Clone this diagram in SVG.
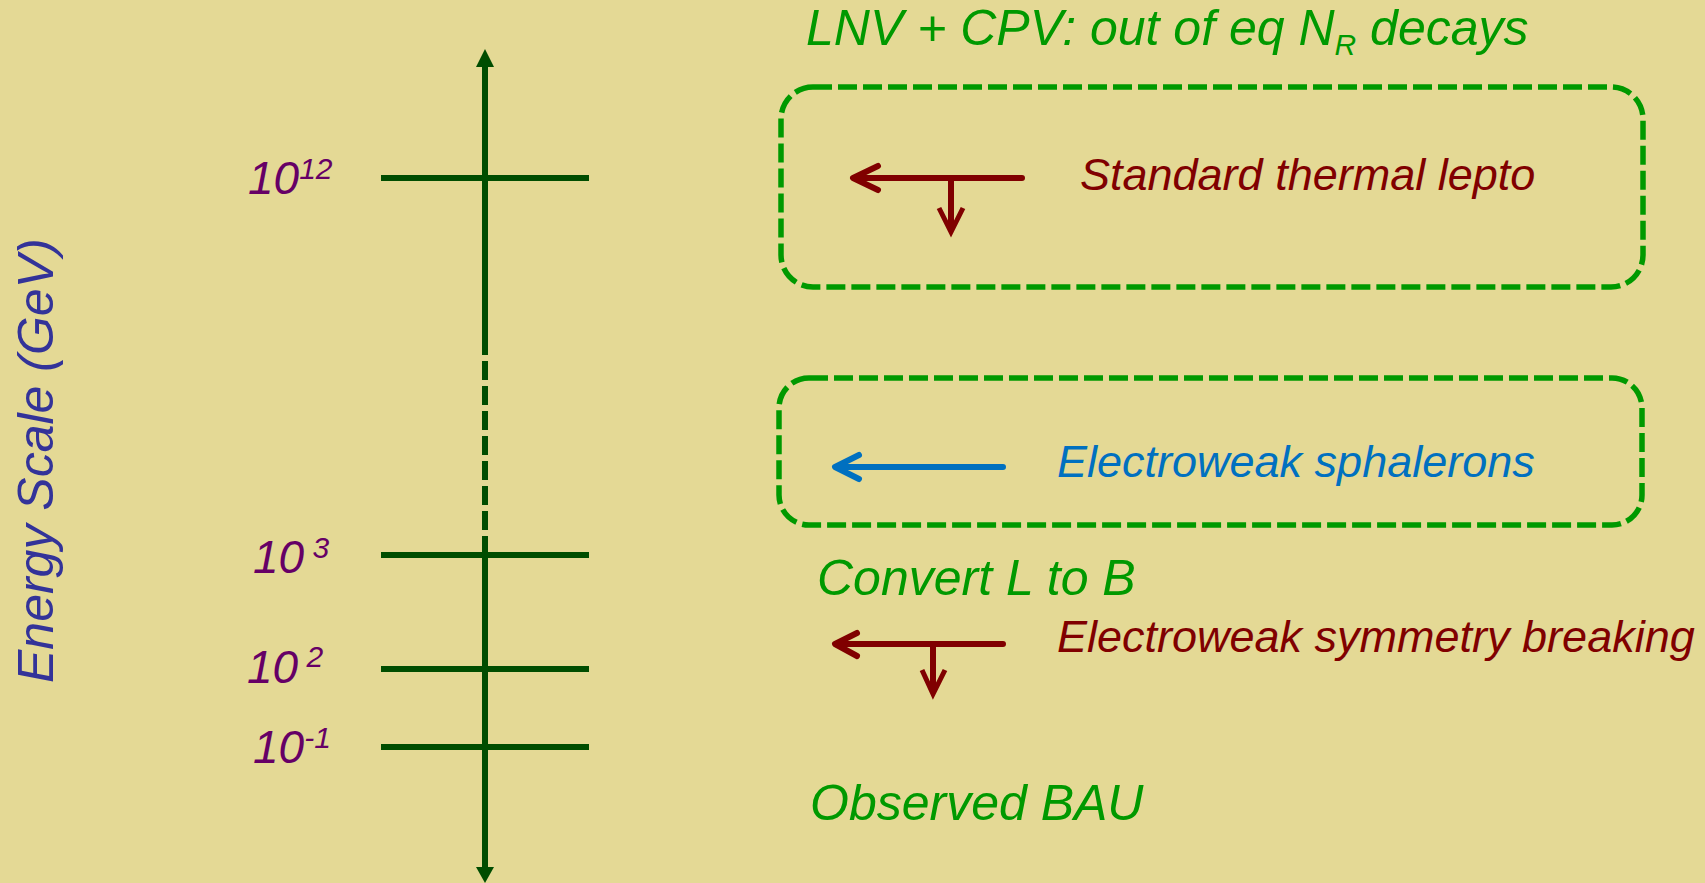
<svg xmlns="http://www.w3.org/2000/svg" width="1705" height="883" viewBox="0 0 1705 883">
<style>
text{font-family:"Liberation Sans",Arial,sans-serif;font-style:italic}
.axis{stroke:#004d00;stroke-width:6;fill:none}
.tick{stroke:#004d00;stroke-width:6}
.lab{fill:#660066;font-size:46px}
.sup{font-size:30px}
.box{fill:none;stroke:#009900;stroke-width:5.5;stroke-dasharray:19 6}
.grn{fill:#009900;font-size:50px}
.red{stroke:#800000;stroke-width:6;fill:none;stroke-linecap:round;stroke-linejoin:round}
.redm{stroke:#800000;stroke-width:5;fill:none;stroke-linejoin:miter}
.blu{stroke:#0070c0;stroke-width:6;fill:none;stroke-linecap:round;stroke-linejoin:round}
</style>
<rect width="1705" height="883" fill="#e4d995"/>
<g id="axis">
<line class="axis" x1="485" y1="66" x2="485" y2="336"/>
<line class="axis" x1="485" y1="336" x2="485" y2="538" stroke-dasharray="19 6"/>
<line class="axis" x1="485" y1="538" x2="485" y2="868"/>
<polygon points="485,49 476,67 494,67" fill="#004d00"/>
<polygon points="485,883 476,867 494,867" fill="#004d00"/>
<line class="tick" x1="381" y1="178" x2="589" y2="178"/>
<line class="tick" x1="381" y1="555" x2="589" y2="555"/>
<line class="tick" x1="381" y1="669" x2="589" y2="669"/>
<line class="tick" x1="381" y1="747" x2="589" y2="747"/>
</g>
<g id="labels">
<text class="lab" x="248" y="194">10<tspan class="sup" dy="-15">12</tspan></text>
<text class="lab" x="253" y="573">10<tspan class="sup" dy="-15"> 3</tspan></text>
<text class="lab" x="247" y="683">10<tspan class="sup" dy="-16"> 2</tspan></text>
<text class="lab" x="253" y="763">10<tspan class="sup" dy="-15">-1</tspan></text>
<text x="0" y="0" transform="translate(53,683) rotate(-90)" fill="#333399" font-size="50">Energy Scale (GeV)</text>
</g>
<g id="title">
<text class="grn" x="806" y="45">LNV + CPV: out of eq N<tspan font-size="30" dy="10">R</tspan><tspan dy="-10"> decays</tspan></text>
</g>
<g id="box-thermal">
<rect class="box" x="781" y="87" width="862" height="200" rx="32"/>
<text x="1080" y="190" fill="#800000" font-size="45">Standard thermal lepto</text>
</g>
<g id="box-sphalerons">
<rect class="box" x="779" y="378" width="863" height="147" rx="30"/>
<text x="1057" y="477" fill="#0070c0" font-size="45">Electroweak sphalerons</text>
</g>
<g id="convert">
<text class="grn" x="817" y="595">Convert L to B</text>
</g>
<g id="ewsb">
<text x="1057" y="652" fill="#800000" font-size="45">Electroweak symmetry breaking</text>
</g>
<g id="bau">
<text class="grn" x="810" y="820">Observed BAU</text>
</g>
<g id="connectors">
<path class="red" d="M1022,178 H854 M878,166 L853,178 L878,190"/>
<path class="red" d="M951,181 V228"/>
<path class="redm" d="M939,208 L951,232 L963,208"/>
<path class="blu" d="M1003,467 H836 M859,455 L835,467 L859,479"/>
<path class="red" d="M1003,644 H836 M857,633 L835,644 L857,656"/>
<path class="red" d="M933,647 V690"/>
<path class="redm" d="M922,670 L933,694 L945,670"/>
</g>
</svg>
